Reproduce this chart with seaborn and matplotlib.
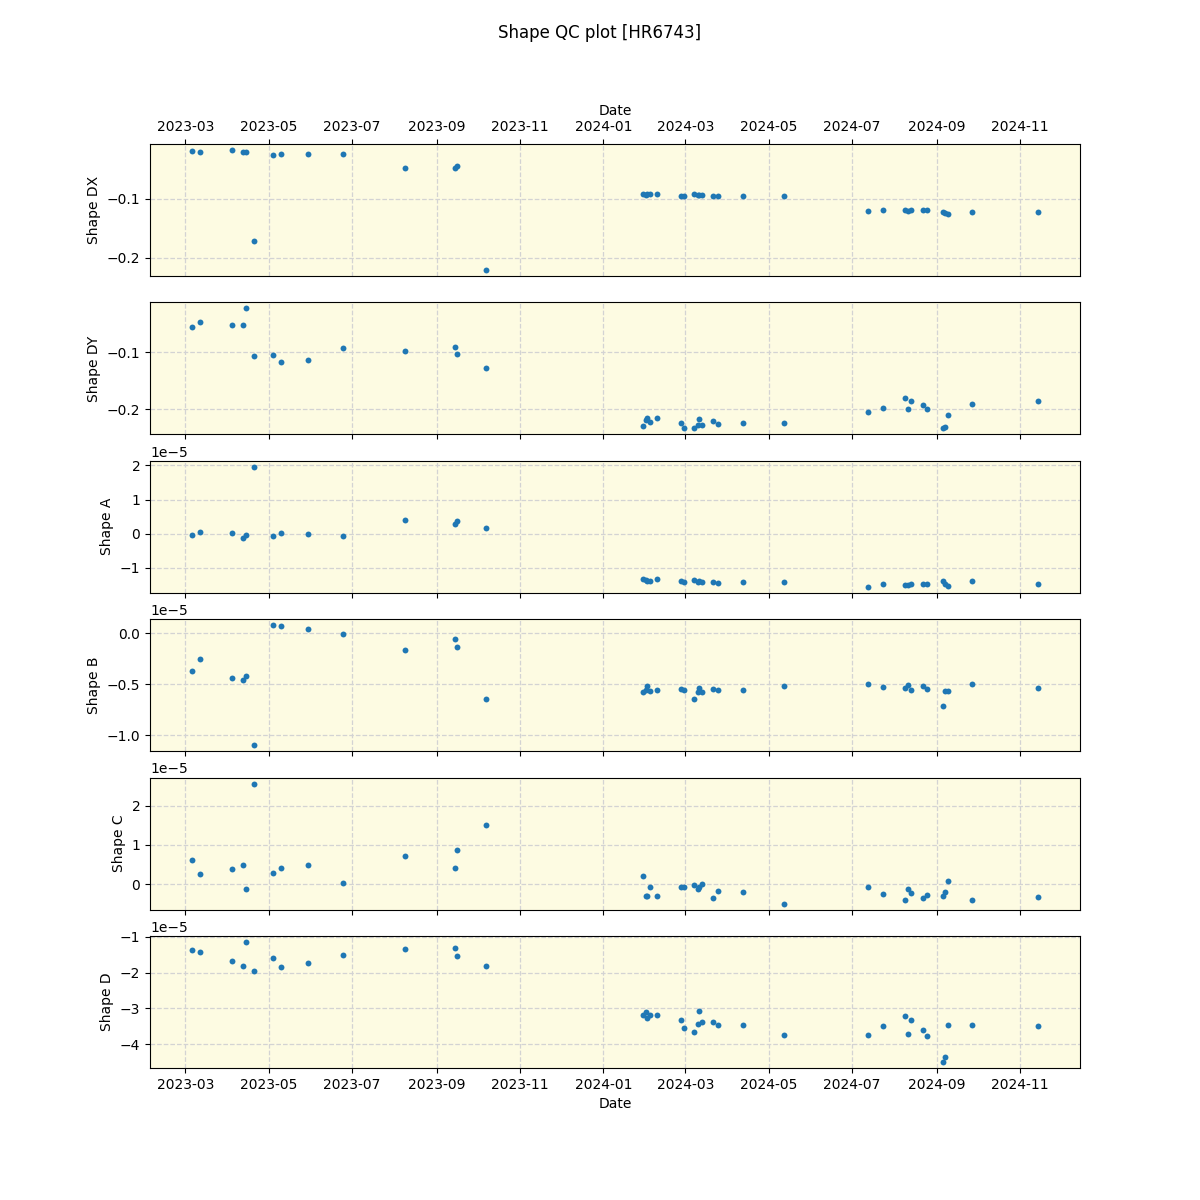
import numpy as np
import pandas as pd
import matplotlib
matplotlib.use("Agg")
import matplotlib.pyplot as plt
import seaborn as sns

dates = [
    "2023-03-06", "2023-03-12", "2023-04-04", "2023-04-12", "2023-04-14", "2023-04-20",
    "2023-05-04", "2023-05-10", "2023-05-30", "2023-06-24", "2023-08-09", "2023-09-14",
    "2023-09-16", "2023-10-07",
    "2024-01-30", "2024-02-01", "2024-02-02", "2024-02-04", "2024-02-09", "2024-02-27",
    "2024-02-29", "2024-03-07", "2024-03-10", "2024-03-11", "2024-03-13", "2024-03-21",
    "2024-03-25", "2024-04-12", "2024-05-12", "2024-07-13", "2024-07-24", "2024-08-09",
    "2024-08-11", "2024-08-13", "2024-08-22", "2024-08-25", "2024-09-06", "2024-09-07",
    "2024-09-09", "2024-09-27", "2024-11-14",
]

shape_dx = [
    -0.0189, -0.0199, -0.0165, -0.0199, -0.0199, -0.1716, -0.0250, -0.0233, -0.0233,
    -0.0233, -0.0472, -0.0472, -0.0438, -0.2210,
    -0.0915, -0.0925, -0.0920, -0.0918, -0.0915, -0.0949, -0.0949, -0.0915, -0.0927,
    -0.0927, -0.0927, -0.0949, -0.0949, -0.0949, -0.0949, -0.1204, -0.1187, -0.1187,
    -0.1204, -0.1187, -0.1187, -0.1187, -0.1216, -0.1245, -0.1256, -0.1222, -0.1222,
]

shape_dy = [
    -0.0561, -0.0474, -0.0526, -0.0526, -0.0228, -0.1070, -0.1053, -0.1175, -0.1140,
    -0.0930, -0.0982, -0.0912, -0.1035, -0.1280,
    -0.2298, -0.2193, -0.2158, -0.2217, -0.2158, -0.2246, -0.2333, -0.2333, -0.2281,
    -0.2175, -0.2281, -0.2210, -0.2263, -0.2246, -0.2246, -0.2053, -0.1982, -0.1807,
    -0.2000, -0.1860, -0.1925, -0.2000, -0.2333, -0.2316, -0.2105, -0.1912, -0.1860,
]

# values in units of 1e-5
shape_a = [
    -0.04, 0.05, 0.02, -0.13, -0.04, 1.96, -0.07, 0.02, -0.01, -0.07, 0.40, 0.28, 0.37, 0.17,
    -1.33, -1.37, -1.39, -1.39, -1.33, -1.39, -1.42, -1.36, -1.42, -1.39, -1.42, -1.42,
    -1.45, -1.42, -1.42, -1.56, -1.48, -1.51, -1.50, -1.48, -1.48, -1.48, -1.39, -1.48,
    -1.54, -1.39, -1.48,
]

shape_b = [
    -0.373, -0.255, -0.441, -0.461, -0.422, -1.095, 0.078, 0.069, 0.039, -0.010, -0.167,
    -0.059, -0.137, -0.647,
    -0.578, -0.559, -0.520, -0.569, -0.559, -0.546, -0.559, -0.647, -0.578, -0.536, -0.578,
    -0.546, -0.559, -0.559, -0.520, -0.500, -0.529, -0.539, -0.510, -0.559, -0.517, -0.549,
    -0.716, -0.569, -0.569, -0.500, -0.539,
]

shape_c = [
    0.63, 0.25, 0.40, 0.48, -0.13, 2.56, 0.30, 0.42, 0.50, 0.04, 0.73, 0.42, 0.88, 1.52,
    0.22, -0.29, -0.29, -0.08, -0.29, -0.06, -0.06, -0.01, -0.13, -0.06, 0.02, -0.36,
    -0.16, -0.19, -0.49, -0.08, -0.24, -0.41, -0.13, -0.21, -0.36, -0.26, -0.29, -0.19,
    0.09, -0.39, -0.31,
]

shape_d = [
    -1.36, -1.42, -1.67, -1.81, -1.14, -1.94, -1.58, -1.83, -1.72, -1.50, -1.33, -1.31,
    -1.53, -1.81,
    -3.19, -3.11, -3.28, -3.17, -3.17, -3.31, -3.56, -3.67, -3.44, -3.08, -3.39, -3.39,
    -3.47, -3.47, -3.75, -3.75, -3.50, -3.22, -3.72, -3.33, -3.61, -3.78, -4.50, -4.36,
    -3.47, -3.47, -3.50,
]

UNIT = 1e-5

df = pd.DataFrame({
    "Date": pd.to_datetime(dates),
    "Shape DX": shape_dx,
    "Shape DY": shape_dy,
    "Shape A": np.array(shape_a) * UNIT,
    "Shape B": np.array(shape_b) * UNIT,
    "Shape C": np.array(shape_c) * UNIT,
    "Shape D": np.array(shape_d) * UNIT,
})

panels = ["Shape DX", "Shape DY", "Shape A", "Shape B", "Shape C", "Shape D"]

fig, axes = plt.subplots(6, 1, sharex=True, figsize=(12, 12), dpi=100)
for i, (ax, col) in enumerate(zip(axes, panels)):
    ax.set_facecolor("#fdfbe2")
    sns.scatterplot(data=df, x="Date", y=col, ax=ax, s=18, linewidth=0,
                    color="#1f77b4", zorder=3)
    ax.grid(True, linestyle="--", color="lightgray", linewidth=0.9, zorder=0)
    ax.set_axisbelow(True)
    ax.set_ylabel(col)
    ax.set_xlabel("")

top = axes[0]
top.xaxis.tick_top()
top.tick_params(axis="x", labeltop=True, labelbottom=False, top=True, bottom=False)
top.xaxis.set_label_position("top")
top.set_xlabel("Date")
top.xaxis.label.set_visible(True)
axes[-1].set_xlabel("Date")

fig.suptitle("Shape QC plot [HR6743]")
fig.savefig("out.png", dpi=100)
